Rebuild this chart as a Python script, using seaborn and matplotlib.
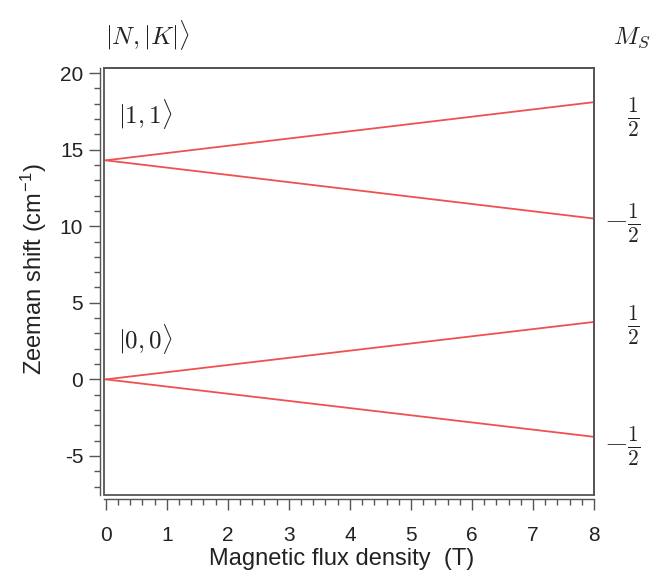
import numpy as np
import pandas as pd
import matplotlib
matplotlib.use('Agg')
import matplotlib.pyplot as plt
from matplotlib.ticker import MultipleLocator
import seaborn as sns

# field values (T) and Zeeman shifts (cm^-1)
field = [0, 8]
shift_11_up = [14.3, 18.1]
shift_11_dn = [14.3, 10.5]
shift_00_up = [0.0, 3.75]
shift_00_dn = [0.0, -3.75]

ms_labels = [r'$\frac{1}{2}$', r'$-\frac{1}{2}$', r'$\frac{1}{2}$', r'$-\frac{1}{2}$']
ket_labels = [r'$|1,1\rangle$', r'$|0,0\rangle$']
ket_y = [17.3, 2.6]

rows = []
for name, vals in [('11u', shift_11_up), ('11d', shift_11_dn),
                   ('00u', shift_00_up), ('00d', shift_00_dn)]:
    for b, s in zip(field, vals):
        rows.append({'B': b, 'shift': s, 'level': name})
df = pd.DataFrame(rows)

sns.set_style('ticks')
plt.rcParams['font.family'] = ['Liberation Sans', 'DejaVu Sans']
plt.rcParams['mathtext.fontset'] = 'cm'
plt.rcParams['axes.unicode_minus'] = False

fig = plt.figure(figsize=(6.56, 5.81), dpi=100)
ax = fig.add_axes([0.1585, 0.148, 0.747, 0.735])

red = '#f05050'
sns.lineplot(data=df, x='B', y='shift', hue='level', units='level', estimator=None,
             palette=[red] * 4, legend=False, linewidth=1.3, ax=ax)

ax.set_xlim(-0.03, 8.0)
ax.set_ylim(-7.55, 20.33)
ax.xaxis.set_major_locator(MultipleLocator(1))
ax.xaxis.set_minor_locator(MultipleLocator(0.2))
ax.yaxis.set_major_locator(MultipleLocator(5))
ax.yaxis.set_minor_locator(MultipleLocator(1))

frame = '#555555'
for side in ['top', 'right']:
    ax.spines[side].set_visible(True)
    ax.spines[side].set_color(frame)
    ax.spines[side].set_linewidth(1.3)
for side in ['left', 'bottom']:
    ax.spines[side].set_position(('outward', 3))
    ax.spines[side].set_color(frame)
    ax.spines[side].set_linewidth(1.0)
ax.patch.set_edgecolor(frame)
ax.patch.set_linewidth(1.3)

ax.tick_params(which='major', length=8, width=1.0, color=frame, labelsize=15,
               labelcolor='#222222', direction='out')
ax.tick_params(axis='x', which='major', pad=11)
ax.tick_params(axis='y', which='major', pad=4)
ax.tick_params(which='minor', length=4, width=1.0, color=frame, direction='out')

ax.set_xlabel('Magnetic flux density  (T)', fontsize=17, color='#222222')
ax.set_ylabel(r'Zeeman shift (cm$^{\mathregular{-1}}$)', fontsize=17, color='#222222')
ax.xaxis.set_label_coords(0.485, -0.125)
ax.yaxis.set_label_coords(-0.112, 0.53)

# Ms labels at the line ends
ends = [shift_11_up[-1], shift_11_dn[-1], shift_00_up[-1], shift_00_dn[-1]]
offsets = [-1.0, -0.3, -0.2, -0.6]
for lab, yv, off in zip(ms_labels, ends, offsets):
    ax.annotate(lab, xy=(1.0, yv + off), xycoords=('axes fraction', 'data'),
                xytext=(46, 0), textcoords='offset pixels', ha='right', va='center',
                fontsize=22, color='#222222', annotation_clip=False)

for lab, yv in zip(ket_labels, ket_y):
    ax.text(0.2, yv, lab, fontsize=18, color='#222222', va='center', ha='left')

fig.text(0.16, 0.94, r'$|N,|K|\rangle$', fontsize=18, color='#222222', ha='left', va='center')
fig.text(0.963, 0.935, r'$M_S$', fontsize=18, color='#222222', ha='center', va='center')

fig.savefig('out.png', dpi=100)
